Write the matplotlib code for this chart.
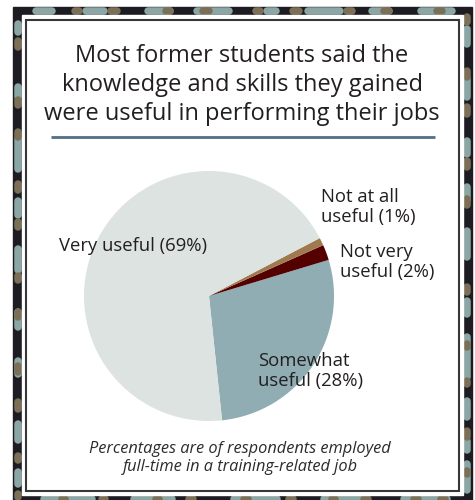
import matplotlib
matplotlib.use("Agg")
import matplotlib.pyplot as plt
from matplotlib.patches import Rectangle

# Survey responses
categories = ["Somewhat\nuseful (28%)", "Not very\nuseful (2%)",
              "Not at all\nuseful (1%)", "Very useful (69%)"]
shares = [28, 2, 1, 69]
colors = ["#8fadb2", "#540000", "#a07a4e", "#dde3e0"]

title = ("Most former students said the\n"
         "knowledge and skills they gained\n"
         "were useful in performing their jobs")
note = ("Percentages are of respondents employed\n"
        "full-time in a training-related job")

W, H = 475, 500
fig = plt.figure(figsize=(W / 100, H / 100), dpi=100)
ax = fig.add_axes([0, 0, 1, 1])


def Y(py):
    return H - py


# ---- decorative dashed border ----
DARK, TEAL, BROWN = "#1c1c22", "#8ba6a4", "#7b6f58"
ax.add_patch(Rectangle((13, Y(505)), 459, 498, color=DARK, zorder=1))
ax.add_patch(Rectangle((22, Y(495)), 441, 480, color="white", zorder=2))
ax.add_patch(Rectangle((26, Y(491)), 433, 471, fill=False,
                       ec="#36363b", lw=1.5, zorder=3))

top = [(32, 55, 't'), (82, 107, 't'), (144, 173, 't'), (193, 232, 't'),
       (263, 279, 't'), (304, 343, 't'), (368, 392, 't'), (417, 455, 't'),
       (21, 28, 'b'), (71, 82, 'b'), (107, 120, 'b'), (162, 173, 'b'),
       (199, 212, 'b'), (252, 263, 'b'), (289, 302, 'b'), (343, 355, 'b'),
       (380, 392, 'b'), (433, 445, 'b')]
left = [(20, 35, 't'), (83, 100, 't'), (135, 172, 't'), (197, 218, 't'),
        (245, 273, 't'), (308, 330, 't'), (357, 377, 't'), (420, 443, 't'),
        (468, 487, 't'),
        (37, 50, 'b'), (96, 108, 'b'), (128, 140, 'b'), (180, 193, 'b'),
        (218, 230, 'b'), (272, 283, 'b'), (308, 320, 'b'), (362, 375, 'b'),
        (398, 412, 'b'), (452, 463, 'b'), (490, 500, 'b')]
right = [(25, 47, 't'), (75, 100, 't'), (137, 157, 't'), (183, 203, 't'),
         (227, 260, 't'), (297, 317, 't'), (333, 380, 't'), (397, 420, 't'),
         (437, 453, 't'), (460, 493, 't'),
         (13, 25, 'b'), (67, 80, 'b'), (103, 117, 'b'), (157, 170, 'b'),
         (195, 208, 'b'), (283, 295, 'b'), (340, 350, 'b'), (377, 387, 'b'),
         (427, 440, 'b'), (467, 477, 'b')]
bottom = [(40, 95, 't'), (130, 175, 't'), (230, 280, 't'), (320, 370, 't'),
          (400, 450, 't'),
          (58, 68, 'b'), (98, 108, 'b'), (152, 162, 'b'), (185, 196, 'b'),
          (240, 251, 'b'), (285, 296, 'b'), (328, 338, 'b'), (360, 371, 'b'),
          (410, 421, 'b'), (437, 448, 'b')]

cap = 3.5
lw = 5.4
for segs, horiz, c in [(top, True, 11), (bottom, True, 499),
                       (left, False, 17.5), (right, False, 467)]:
    for a, b, k in segs:
        col = TEAL if k == 't' else BROWN
        a2, b2 = a + cap, max(b - cap, a + cap + 0.1)
        if horiz:
            ax.plot([a2, b2], [Y(c), Y(c)], color=col, lw=lw,
                    solid_capstyle="round", zorder=1.5)
        else:
            ax.plot([c, c], [Y(a2), Y(b2)], color=col, lw=lw,
                    solid_capstyle="round", zorder=1.5)

# ---- title and rule ----
TXT = "#231f20"
FONT = "Open Sans"
ax.text(242, Y(85), title, ha="center", va="center", fontsize=17,
        family=FONT, color=TXT, linespacing=1.28, zorder=5)
ax.plot([51, 435], [Y(137), Y(137)], color="#4f7186", lw=2.0,
        solid_capstyle="butt", zorder=5)

# ---- pie ----
cx, cy, r = 209, Y(296), 125
ax.pie(shares, colors=colors, startangle=-84, counterclock=True,
       center=(cx, cy), radius=r, wedgeprops=dict(linewidth=0),
       frame=True)
for p in ax.patches[-len(shares):]:
    p.set_zorder(4)

# labels
lab_kw = dict(family=FONT, color=TXT, fontsize=13.3, linespacing=1.12,
              zorder=6, va="center", ha="left")
ax.text(59, Y(246), categories[3], **lab_kw)
ax.text(321, Y(207), categories[2], **lab_kw)
ax.text(340, Y(262), categories[1], **lab_kw)
ax.text(258, Y(371), categories[0], **lab_kw)

ax.text(240, Y(458), note, ha="center", va="center", fontsize=11.8,
        style="italic", family=FONT, color="#2b2b2e", linespacing=1.15,
        zorder=6)

ax.set_xlim(0, W)
ax.set_ylim(0, H)
ax.set_aspect("auto")
ax.axis("off")
fig.savefig("out.png", dpi=100, facecolor="white")
